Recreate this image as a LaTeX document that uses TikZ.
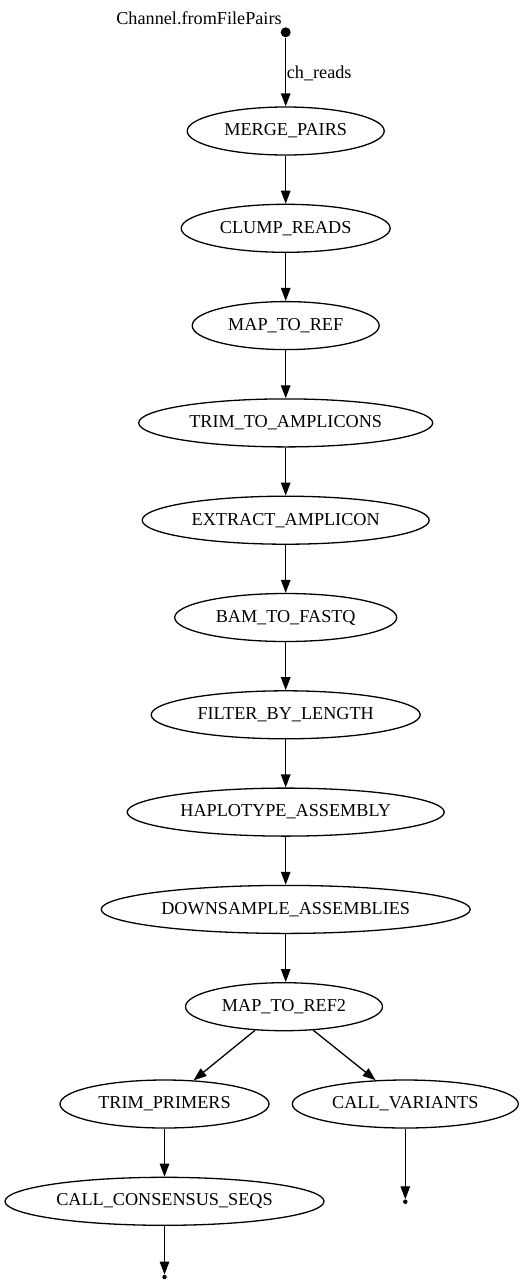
\documentclass[tikz,border=0pt]{standalone}
\usepackage{fontspec}
\setmainfont{Liberation Serif}
\usetikzlibrary{shapes.geometric,arrows.meta}
\begin{document}
\begin{tikzpicture}[x=1pt,y=-1pt,
  proc/.style={ellipse,draw,line width=1.3pt,inner sep=0pt,minimum height=48pt,
    font=\fontsize{18.2}{22}\selectfont},
  lbl/.style={inner sep=0pt,font=\fontsize{18.2}{22}\selectfont},
  edge/.style={line width=1.3pt,-{Triangle[length=13pt,width=9.5pt]}},
  startpt/.style={circle,fill,inner sep=0pt,minimum size=10pt},
  endpt/.style={circle,fill,inner sep=0pt,minimum size=4.5pt}]
\useasboundingbox (0,0) rectangle (527,1285);
\node[startpt] (s) at (285.7,32.3) {};
\node[lbl] (slbl) at (199,18) {Channel.fromFilePairs};
\node[proc,minimum width=197pt] (n0) at (285.7,131) {MERGE\_PAIRS};
\node[proc,minimum width=209pt] (n1) at (285.7,228.3) {CLUMP\_READS};
\node[proc,minimum width=187pt] (n2) at (285.7,325.6) {MAP\_TO\_REF};
\node[proc,minimum width=294pt] (n3) at (285.7,422.9) {TRIM\_TO\_AMPLICONS};
\node[proc,minimum width=287pt] (n4) at (285.7,520.2) {EXTRACT\_AMPLICON};
\node[proc,minimum width=222pt] (n5) at (285.7,617.5) {BAM\_TO\_FASTQ};
\node[proc,minimum width=269pt] (n6) at (285.7,714.8) {FILTER\_BY\_LENGTH};
\node[proc,minimum width=317pt] (n7) at (285.7,812.1) {HAPLOTYPE\_ASSEMBLY};
\node[proc,minimum width=369pt] (n8) at (285.7,909.4) {DOWNSAMPLE\_ASSEMBLIES};
\node[proc,minimum width=197pt] (n9) at (284,1006.7) {MAP\_TO\_REF2};
\node[proc,minimum width=209pt] (tp) at (164.5,1104) {TRIM\_PRIMERS};
\node[proc,minimum width=226pt] (cv) at (405.3,1104) {CALL\_VARIANTS};
\node[proc,minimum width=319pt] (cc) at (164.5,1201.3) {CALL\_CONSENSUS\_SEQS};
\node[endpt] (e1) at (164.5,1277) {};
\node[endpt] (e2) at (405.3,1201.7) {};
\draw[edge] (s) -- node[lbl,anchor=west,xshift=0.5pt,yshift=-1.5pt] (chr) {ch\_reads} (n0);
\draw[edge] (n0) -- (n1);
\draw[edge] (n1) -- (n2);
\draw[edge] (n2) -- (n3);
\draw[edge] (n3) -- (n4);
\draw[edge] (n4) -- (n5);
\draw[edge] (n5) -- (n6);
\draw[edge] (n6) -- (n7);
\draw[edge] (n7) -- (n8);
\draw[edge] (n8.south) -- (n8.south |- n9.north);
\draw[edge] (n9) -- (tp);
\draw[edge] (n9) -- (cv);
\draw[edge] (tp) -- (cc);
\draw[edge] (cc) -- (e1);
\draw[edge] (cv) -- (e2);
\end{tikzpicture}
\end{document}
